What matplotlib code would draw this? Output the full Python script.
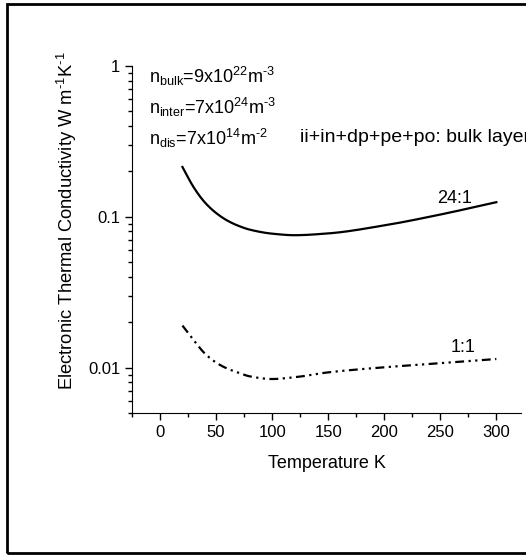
import numpy as np
import matplotlib
matplotlib.use("Agg")
import matplotlib.pyplot as plt
from matplotlib.ticker import FixedLocator, LogLocator, NullFormatter, FuncFormatter
from matplotlib.patches import Rectangle

plt.rcParams['font.family'] = ['Liberation Sans', 'DejaVu Sans']
plt.rcParams['mathtext.fontset'] = 'custom'
plt.rcParams['mathtext.rm'] = 'Liberation Sans'
plt.rcParams['mathtext.it'] = 'Liberation Sans'
plt.rcParams['axes.unicode_minus'] = False

# data
temp = [20, 30, 40, 50, 60, 70, 80, 100, 120, 150, 200, 250, 300]
k_24 = [0.214, 0.157, 0.1245, 0.106, 0.0944, 0.0871, 0.0822, 0.0773, 0.0755,
        0.0776, 0.0877, 0.1035, 0.125]
k_1 = [0.019, 0.0152, 0.0124, 0.0108, 0.00985, 0.00925, 0.00875, 0.0084, 0.00863,
       0.0093, 0.01005, 0.0107, 0.0114]

labels = ["24:1", "1:1"]
label_pos = [(263, 0.133), (270, 0.0136)]


def pchip(x, y, xn):
    # monotone cubic hermite, no scipy here
    x = np.asarray(x, float)
    y = np.asarray(y, float)
    h = np.diff(x)
    d = np.diff(y) / h
    m = np.zeros_like(y)
    for i in range(1, len(y) - 1):
        if d[i - 1] * d[i] > 0:
            w1 = 2 * h[i] + h[i - 1]
            w2 = h[i] + 2 * h[i - 1]
            m[i] = (w1 + w2) / (w1 / d[i - 1] + w2 / d[i])
    m[0] = d[0]
    m[-1] = d[-1]
    idx = np.clip(np.searchsorted(x, xn) - 1, 0, len(h) - 1)
    t = (xn - x[idx]) / h[idx]
    h00 = 2 * t**3 - 3 * t**2 + 1
    h10 = t**3 - 2 * t**2 + t
    h01 = -2 * t**3 + 3 * t**2
    h11 = t**3 - t**2
    return (h00 * y[idx] + h10 * h[idx] * m[idx]
            + h01 * y[idx + 1] + h11 * h[idx] * m[idx + 1])


tt = np.linspace(temp[0], temp[-1], 400)
s24 = 10 ** pchip(temp, np.log10(k_24), tt)
s1 = 10 ** pchip(temp, np.log10(k_1), tt)

fig = plt.figure(figsize=(5.26, 5.56), dpi=100)
ax = fig.add_axes([132/526, 1 - 413/556, (521 - 132)/526, (413 - 66)/556])

ax.plot(tt, s24, color='black', lw=1.6)
ax.plot(tt, s1, color='black', lw=1.6, linestyle=(0, (4, 2, 1, 2, 1, 2)))

for lab, (x, y) in zip(labels, label_pos):
    ax.text(x, y, lab, fontsize=13, ha='center', va='center')

ax.set_yscale('log')
ax.set_ylim(0.005, 1)
ax.set_xlim(-25, 322)

ax.xaxis.set_major_locator(FixedLocator([0, 50, 100, 150, 200, 250, 300]))
ax.xaxis.set_minor_locator(FixedLocator([-25, 25, 75, 125, 175, 225, 275]))
ax.yaxis.set_major_locator(FixedLocator([0.01, 0.1, 1]))
ax.yaxis.set_major_formatter(FuncFormatter(lambda v, p: '%g' % v))
ax.yaxis.set_minor_locator(LogLocator(base=10, subs=np.arange(2, 10)))
ax.yaxis.set_minor_formatter(NullFormatter())

ax.tick_params(which='major', direction='out', length=5, width=1, labelsize=12)
ax.tick_params(which='minor', direction='out', length=3, width=1)
ax.spines['top'].set_visible(False)
ax.spines['right'].set_visible(False)
ax.patch.set_alpha(0)

ax.set_xlabel('Temperature K', fontsize=13, labelpad=11)
ax.set_ylabel(r'Electronic Thermal Conductivity W m$^{\text{-1}}$K$^{\text{-1}}$', fontsize=13.2)
ax.yaxis.set_label_coords(-0.137, 0.553)

ann = [r'n$_{bulk}$=9x10$^{22}$m$^{\text{-3}}$',
       r'n$_{inter}$=7x10$^{24}$m$^{\text{-3}}$',
       r'n$_{dis}$=7x10$^{14}$m$^{\text{-2}}$']
for i, s in enumerate(ann):
    fig.text(149/526, 1 - (76 + i*31)/556, s, fontsize=13, va='center', ha='left')
# the reference crops this one at the right edge
fig.text(300/526, 1 - 138/556, 'ii+in+dp+pe+po: bulk layer', fontsize=14, va='center', ha='left')

fig.patches.append(Rectangle((7/526, 3/556), 1.2, 1 - 7/556, transform=fig.transFigure,
                             fill=False, edgecolor='black', lw=2))

fig.savefig('out.png', dpi=100)
